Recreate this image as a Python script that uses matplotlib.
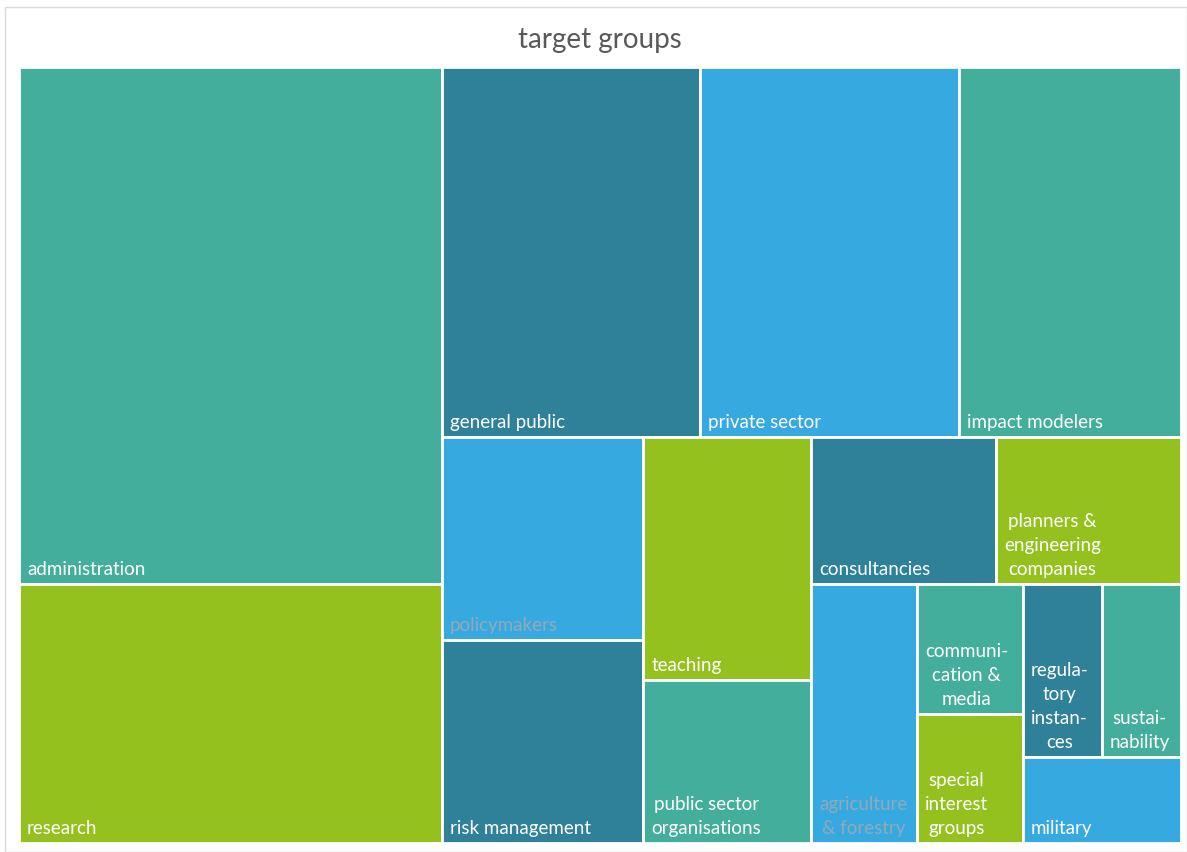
import matplotlib.pyplot as plt
from matplotlib.patches import Rectangle

# number of mentions per target group (sorted, largest first)
groups = ['administration', 'research', 'general public', 'private sector',
          'impact modelers', 'policymakers', 'risk management', 'teaching',
          'public sector\norganisations', 'consultancies',
          'planners &\nengineering\ncompanies', 'agriculture\n& forestry',
          'communi-\ncation &\nmedia', 'special\ninterest\ngroups',
          'regula-\ntory\ninstan-\nces', 'sustai-\nnability', 'military']
counts = [16, 8, 7, 7, 6, 3, 3, 3, 2, 2, 2, 2, 1, 1, 1, 1, 1]

# how many tiles go into each strip of the treemap
strips = [2, 3, 2, 2, 2, 1, 2, 2, 1]

TEAL = '#44ae9c'
DARK = '#2e8199'
BLUE = '#36a9e1'
LIME = '#95c11f'
colors = [TEAL, LIME, DARK, BLUE, TEAL, BLUE, DARK, LIME, TEAL, DARK, LIME,
          BLUE, TEAL, LIME, DARK, TEAL, BLUE]
text_colors = ['white'] * len(groups)
text_colors[groups.index('policymakers')] = '#93a9b6'
text_colors[groups.index('agriculture\n& forestry')] = '#93a9b6'


def strip_layout(values, strips, width, height):
    """Lay the values out strip by strip, each strip along the short side."""
    rects = []
    x, y, w, h = 0.0, 0.0, width, height
    i = 0
    for n in strips:
        part = values[i:i + n]
        rest = sum(values[i:])
        s = sum(part)
        if w >= h:
            cw = w * s / rest
            yy = y
            for v in part:
                ch = h * v / s
                rects.append((x, yy, cw, ch))
                yy += ch
            x += cw
            w -= cw
        else:
            rh = h * s / rest
            xx = x
            for v in part:
                rw = w * v / s
                rects.append((xx, y, rw, rh))
                xx += rw
            y += rh
            h -= rh
        i += n
    return rects


W, H = 1162, 776
fig = plt.figure(figsize=(11.87, 8.52), dpi=100)
plt.rcParams['font.family'] = ['Lato', 'DejaVu Sans']

# light frame round the chart area
fig.patches.append(Rectangle((5 / 1187, 0), 1 - 5 / 1187, 1 - 7 / 852,
                             transform=fig.transFigure, fill=False,
                             edgecolor='#d9d9d9', linewidth=1))

ax = fig.add_axes([19 / 1187, 9 / 852, W / 1187, H / 852])
ax.set_xlim(0, W)
ax.set_ylim(H, 0)
ax.axis('off')

for (x, y, w, h), name, c, tc in zip(strip_layout(counts, strips, W, H),
                                     groups, colors, text_colors):
    ax.add_patch(Rectangle((x, y), w, h, facecolor=c, edgecolor='white',
                           linewidth=2))
    ax.annotate(name, (x, y + h), xytext=(8, 6), textcoords='offset pixels',
                ha='left', va='bottom', multialignment='center',
                color=tc, fontsize=13.5, linespacing=1.5)

fig.text(600 / 1187, 1 - 40 / 852, 'target groups', ha='center',
         va='center', fontsize=20, color='#595959')

fig.savefig('out.png', dpi=100)
